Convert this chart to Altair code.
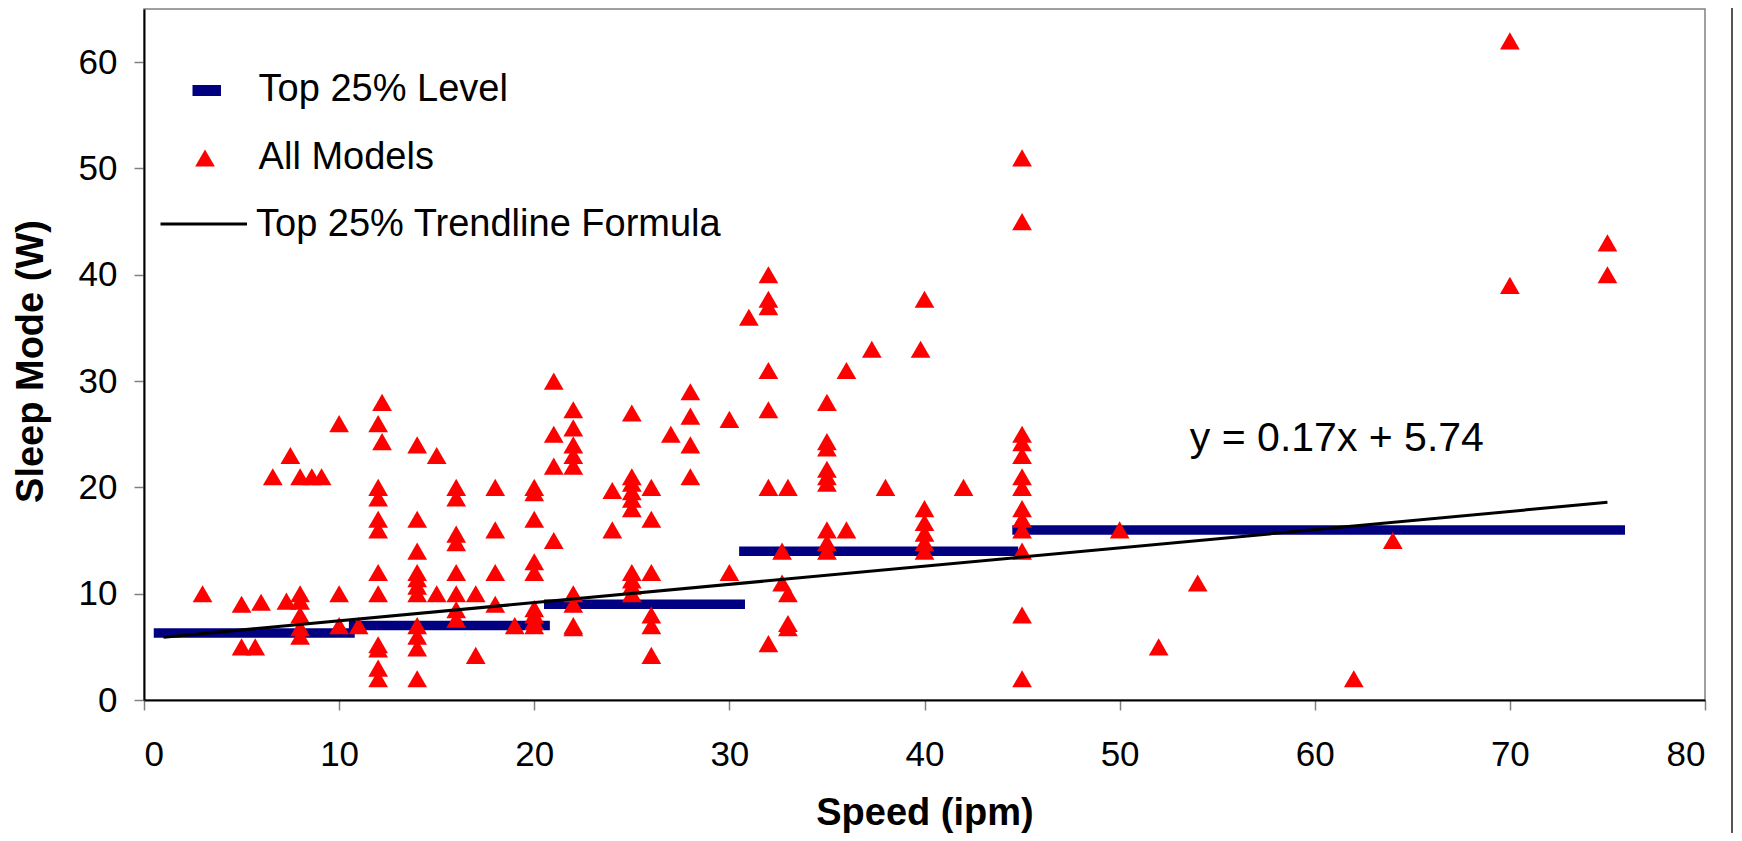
import altair as alt
import pandas as pd

# ---- data ----
speed = [3, 5, 5, 5.7, 6, 6.6, 7.3, 7.5,
         8, 8, 8, 8, 8, 8, 8.6, 9.1,
         10, 10, 10, 11,
         12, 12, 12, 12, 12, 12, 12, 12, 12, 12, 12, 12.2, 12.2,
         14, 14, 14, 14, 14, 14, 14, 14, 14, 14, 14,
         15, 15,
         16, 16, 16, 16, 16, 16, 16, 16,
         17, 17,
         18, 18, 18, 18,
         19,
         20, 20, 20, 20, 20, 20, 20, 20, 20,
         21, 21, 21, 21,
         22, 22, 22, 22, 22, 22, 22, 22, 22,
         24, 24,
         25, 25, 25, 25, 25, 25, 25, 25, 25, 25,
         26, 26, 26, 26, 26, 26,
         27,
         28, 28, 28, 28,
         30, 30,
         31,
         32, 32, 32, 32, 32, 32, 32,
         32.7, 32.7,
         33, 33, 33, 33,
         35, 35, 35, 35, 35, 35, 35, 35, 35,
         36, 36,
         37.3, 38, 39.8,
         40, 40, 40, 40, 40, 40,
         42,
         45, 45, 45, 45, 45, 45, 45, 45, 45, 45, 45, 45, 45,
         50, 52, 54, 62, 64,
         70, 70, 75, 75]
sleep = [10, 9, 5, 5, 9.2, 21, 9.3, 23,
         21, 10, 9.3, 8, 6.8, 6, 21, 21,
         26, 10, 7, 7,
         26, 20, 19, 17, 16, 12, 10, 5.2, 4.8, 3, 2, 28, 24.3,
         24, 17, 14, 12, 11.4, 10.7, 10, 7, 6, 4.9, 2,
         23, 10,
         20, 19, 15.6, 14.8, 12, 10, 8.5, 7.6,
         10, 4.2,
         20, 16, 12, 9,
         7,
         20, 19.5, 17, 13, 12, 8.6, 8, 7.4, 7,
         30, 25, 22, 15,
         27.3, 25.6, 24, 23, 22, 10, 9, 7, 6.8,
         19.7, 16,
         27, 21, 20.4, 19.6, 18.9, 18, 12, 11.3, 10.7, 10,
         20, 17, 12, 8, 7, 4.2,
         25,
         29, 26.7, 24, 21,
         26.4, 12,
         36,
         40, 37.7, 37, 31, 27.3, 20, 5.3,
         14, 11,
         20, 10, 7.2, 6.8,
         28, 24.3, 23.7, 21.7, 21, 20.4, 16, 14.8, 14,
         31, 16,
         33, 20, 33,
         37.7, 18, 16.7, 15.7, 14.8, 14,
         20,
         51, 45, 25, 24.2, 23, 21, 20, 18, 17, 16, 14, 8, 2,
         16, 5, 11, 2, 15,
         62, 39, 43, 40]

level_start = [0.5, 10.5, 20.5, 30.5, 44.5]
level_end = [10.8, 20.8, 30.8, 44.8, 75.9]
level_value = [6.3, 7.0, 9.0, 14.0, 16.0]

trend_x = [1, 75]
trend_y = [5.9, 18.6]

equation_text = "y = 0.17x + 5.74"
equation_pos = (53.6, 23.4)

legend_labels = ["Top 25% Level", "All Models", "Top 25% Trendline Formula"]

x_ticks = [0, 10, 20, 30, 40, 50, 60, 70, 80]
y_ticks = [0, 10, 20, 30, 40, 50, 60]

FONT = "Liberation Sans, Arial, sans-serif"
RED = "#FF0000"
NAVY = "#000080"

pts = pd.DataFrame({"speed": speed, "sleep": sleep})
levels = pd.DataFrame({"x1": level_start, "x2": level_end, "y": level_value})
trend = pd.DataFrame({"x": trend_x, "y": trend_y})
one = pd.DataFrame({"d": [0]})

xscale = alt.Scale(domain=[0, 80], nice=False, zero=False)
yscale = alt.Scale(domain=[0, 65], nice=False, zero=False)

x_axis = alt.Axis(values=x_ticks, labelPadding=27, title="Speed (ipm)",
                  titleY=124, titleBaseline="alphabetic")
y_axis = alt.Axis(values=y_ticks, labelPadding=17, title="Sleep Mode (W)",
                  titleX=-102, titleY=352, titleAngle=270,
                  titleBaseline="alphabetic", titleAlign="center")

bars = alt.Chart(levels).mark_rule(color=NAVY, strokeWidth=9.5, strokeCap="butt").encode(
    x=alt.X("x1:Q", scale=xscale, axis=x_axis),
    x2="x2:Q",
    y=alt.Y("y:Q", scale=yscale, axis=y_axis),
)

points = alt.Chart(pts).mark_point(shape="triangle-up", filled=True, size=390,
                                   color=RED, opacity=1).encode(
    x=alt.X("speed:Q", scale=xscale),
    y=alt.Y("sleep:Q", scale=yscale),
)

line = alt.Chart(trend).mark_line(color="black", strokeWidth=3).encode(
    x=alt.X("x:Q", scale=xscale),
    y=alt.Y("y:Q", scale=yscale),
)

equation = alt.Chart(one).mark_text(text=equation_text, align="left", baseline="alphabetic",
                                    font=FONT, fontSize=41, color="black").encode(
    x=alt.datum(equation_pos[0]),
    y=alt.datum(equation_pos[1]),
)

# legend (layout, in pixels inside the plot area)
leg_rect = alt.Chart(one).mark_rect(color=NAVY).encode(
    x=alt.value(48.5), x2=alt.value(77), y=alt.value(76), y2=alt.value(87))
leg_tri = alt.Chart(one).mark_point(shape="triangle-up", filled=True, size=390,
                                    color=RED, opacity=1).encode(
    x=alt.value(61), y=alt.value(149))
leg_line = alt.Chart(one).mark_rule(color="black", strokeWidth=3).encode(
    x=alt.value(16.5), x2=alt.value(103), y=alt.value(215))
leg_texts = []
for lbl, tx, ty in zip(legend_labels, [114.6, 114.6, 112], [92, 159.5, 227]):
    leg_texts.append(
        alt.Chart(one).mark_text(text=lbl, align="left", baseline="alphabetic",
                                 font=FONT, fontSize=38, color="black").encode(
            x=alt.value(tx), y=alt.value(ty)))

outer = alt.Chart(one).mark_rule(color="#555555", strokeWidth=2).encode(
    x=alt.value(1588), y=alt.value(-9), y2=alt.value(840))

chart = alt.layer(bars, points, line, equation, leg_rect, leg_tri, leg_line,
                  *leg_texts, outer).properties(
    width=1561, height=691,
    autosize=alt.AutoSizeParams(type="none"),
    padding={"left": 136, "top": 1, "right": 28, "bottom": 133},
).configure_view(
    stroke="#808080", strokeWidth=1.5
).configure_axis(
    grid=False, domainColor="black", domainWidth=2,
    tickColor="#808080", tickSize=10, tickWidth=1.5,
    labelFont=FONT, labelFontSize=35, labelColor="black",
    titleFont=FONT, titleFontSize=38, titleFontWeight="bold", titleColor="black",
)

chart.save("out.html", embed_options={"renderer": "svg", "actions": False})
